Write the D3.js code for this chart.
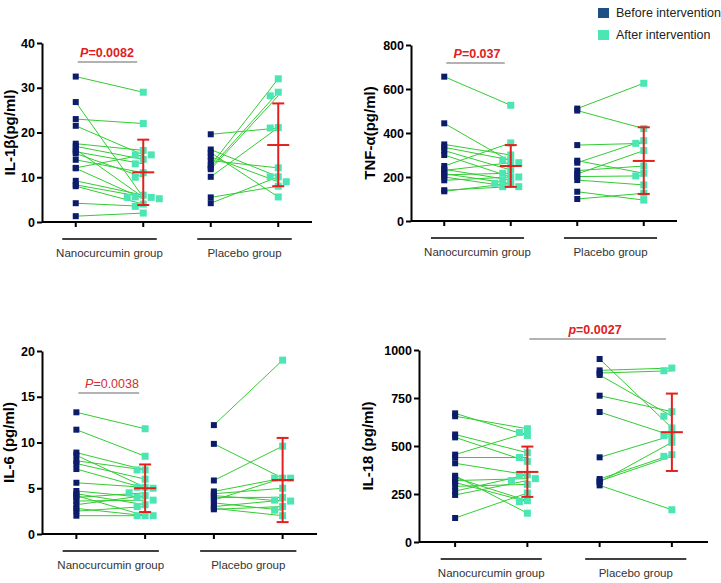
<!DOCTYPE html>
<html><head><meta charset="utf-8">
<script src="https://cdn.jsdelivr.net/npm/d3@7"></script>
<style>body{margin:0;background:#fff}svg{display:block;font-family:"Liberation Sans",Arial,sans-serif}</style>
</head><body><svg id="c" width="721" height="583"></svg>
<script>
// ---- data ----
const groups = ["Nanocurcumin group", "Placebo group"];
const positions = ["NB", "NA", "PB", "PA"];
const legendLabels = ["Before intervention", "After intervention"];

const il1NanoBefore = [32.5, 26.8, 23.0, 21.5, 17.5, 16.9, 16.2, 15.7, 15.3, 13.9, 12.1, 12.0, 9.2, 8.3, 8.0, 4.2, 1.3];
const il1NanoAfter  = [29.0, 5.5, 22.0, 15.0, 16.0, 14.0, 5.5, 13.0, 10.0, 11.0, 15.0, 5.2, 6.0, 5.6, 4.0, 3.5, 2.0];
const il1PlacBefore = [19.6, 16.2, 15.5, 14.6, 13.7, 12.7, 12.2, 11.8, 10.1, 5.5, 4.2];
const il1PlacAfter  = [21.0, 10.1, 5.6, 9.0, 12.1, 32.0, 29.0, 28.2, 21.1, 8.0, 10.1];
const il1Stats = [[11.1, 3.8, 18.4], [17.2, 8.0, 26.5]];
const il1Ticks = [0, 10, 20, 30, 40];

const tnfNanoBefore = [656, 444, 348, 335, 320, 300, 250, 235, 230, 215, 210, 200, 185, 140, 135];
const tnfNanoAfter  = [526, 270, 300, 277, 232, 200, 355, 186, 265, 170, 217, 156, 200, 156, 171];
const tnfPlacBefore = [511, 502, 345, 274, 265, 229, 214, 202, 186, 133, 100];
const tnfPlacAfter  = [626, 420, 353, 217, 365, 250, 320, 205, 164, 95, 126];
const tnfStats = [[250, 155, 345], [273, 123, 426]];
const tnfTicks = [0, 200, 400, 600, 800];

const il6NanoBefore = [13.3, 11.4, 8.9, 8.6, 8.0, 7.7, 7.1, 5.6, 4.7, 4.4, 4.2, 4.0, 3.6, 3.2, 2.8, 2.5, 2.0];
const il6NanoAfter  = [11.5, 8.5, 7.0, 5.1, 7.0, 6.0, 5.0, 5.1, 4.0, 3.2, 2.0, 4.5, 3.7, 4.2, 2.0, 3.0, 2.0];
const il6PlacBefore = [11.9, 9.85, 5.85, 4.65, 4.4, 4.2, 4.0, 3.7, 3.4, 3.0, 2.8, 2.7];
const il6PlacAfter  = [19.0, 6.1, 9.6, 6.1, 5.0, 3.6, 4.0, 6.1, 2.6, 3.7, 2.0, 3.0];
const il6Stats = [[5.0, 2.4, 7.6], [5.9, 1.3, 10.5]];
const il6Ticks = [0, 5, 10, 15, 20];

const il18NanoBefore = [670, 655, 560, 545, 455, 440, 410, 345, 335, 320, 310, 290, 265, 245, 125];
const il18NanoAfter  = [555, 590, 465, 420, 570, 440, 350, 150, 215, 330, 210, 300, 350, 320, 255];
const il18PlacBefore = [953, 894, 880, 870, 762, 677, 441, 328, 318, 312, 295];
const il18PlacAfter  = [594, 906, 892, 655, 679, 554, 554, 455, 446, 519, 168];
const il18Stats = [[365, 235, 497], [572, 370, 773]];
const il18Ticks = [0, 250, 500, 750, 1000];

const panels = [
  {title: "IL-1β(pg/ml)", nb: il1NanoBefore, na: il1NanoAfter, pb: il1PlacBefore, pa: il1PlacAfter, stats: il1Stats, ticks: il1Ticks,
   x0: 42, x1: 312, yTop: 43, yBot: 222, titleX: 10,
   p: {text: "0.0082", letter: "P", from: "NB", to: "NA", y: 62, bold: true, color: "#e02020", textCx: 107}},
  {title: "TNF-α(pg/ml)", nb: tnfNanoBefore, na: tnfNanoAfter, pb: tnfPlacBefore, pa: tnfPlacAfter, stats: tnfStats, ticks: tnfTicks,
   x0: 411, x1: 677, yTop: 45, yBot: 221, titleX: 370,
   p: {text: "0.037", letter: "P", from: "NB", to: "NA", y: 63, bold: true, color: "#e02020", textCx: 477}},
  {title: "IL-6 (pg/ml)", nb: il6NanoBefore, na: il6NanoAfter, pb: il6PlacBefore, pa: il6PlacAfter, stats: il6Stats, ticks: il6Ticks,
   x0: 42, x1: 317, yTop: 351, yBot: 534, titleX: 9,
   p: {text: "0.0038", letter: "P", from: "NB", to: "NA", y: 393, bold: false, color: "#d03030", textCx: 112}},
  {title: "IL-18 (pg/ml)", nb: il18NanoBefore, na: il18NanoAfter, pb: il18PlacBefore, pa: il18PlacAfter, stats: il18Stats, ticks: il18Ticks,
   x0: 419, x1: 708, yTop: 350, yBot: 542, titleX: 368,
   p: {text: "0.0027", letter: "p", from: "NA", to: "PA", y: 339, bold: true, color: "#e02020", textCx: 595}}
];

const BEFORE = "#0c1c6a", AFTER = "#4be6b4", LINE = "#33cc33", RED = "#e3201c", LEGBEFORE = "#1f4e85";
const svg = d3.select("#c");

function dodge(vals, y) {
  const order = vals.map((v, i) => i).sort((a, b) => vals[b] - vals[a]);
  const placed = [];
  const off = new Array(vals.length).fill(0);
  const seq = [0, -1, 1, -2, 2, -3, 3];
  order.forEach(i => {
    const py = y(vals[i]);
    for (const s of seq) {
      if (!placed.some(p => p.s === s && Math.abs(p.py - py) < 6.5)) {
        off[i] = s; placed.push({s, py}); break;
      }
    }
  });
  return off;
}

panels.forEach(P => {
  const g = svg.append("g");
  const y = d3.scaleLinear().domain([P.ticks[0], P.ticks[P.ticks.length - 1]]).range([P.yBot, P.yTop]);
  const x = d3.scalePoint().domain(positions).range([P.x0, P.x1]).padding(0.5);
  const step = x.step();

  g.append("line").attr("x1", P.x0).attr("x2", P.x1).attr("y1", P.yBot).attr("y2", P.yBot)
    .attr("stroke", "#000").attr("stroke-width", 2);
  positions.forEach(k => g.append("line").attr("x1", x(k)).attr("x2", x(k)).attr("y1", P.yBot).attr("y2", P.yBot + 5)
    .attr("stroke", "#000").attr("stroke-width", 2));

  const ax = g.append("g").attr("transform", `translate(${P.x0},0)`)
    .call(d3.axisLeft(y).tickValues(P.ticks).tickFormat(d3.format("d")).tickSize(5).tickSizeOuter(0).tickPadding(2));
  ax.select(".domain").attr("stroke-width", 2);
  ax.selectAll(".tick line").attr("stroke-width", 2);
  ax.selectAll(".tick text").attr("font-size", 12.5).attr("font-weight", "bold").attr("fill", "#000")
    .attr("font-family", "'Liberation Sans',Arial,sans-serif");

  const cy = (P.yTop + P.yBot) / 2;
  g.append("text").attr("transform", `translate(${P.titleX},${cy}) rotate(-90)`)
    .attr("text-anchor", "middle").attr("dy", "0.35em").attr("font-size", 15).attr("font-weight", "bold")
    .text(P.title);

  [["NB", "NA", 0], ["PB", "PA", 1]].forEach(([a, b, gi]) => {
    const mid = (x(a) + x(b)) / 2;
    g.append("line").attr("x1", mid - step * 0.7).attr("x2", mid + step * 0.7)
      .attr("y1", P.yBot + 17).attr("y2", P.yBot + 17).attr("stroke", "#000").attr("stroke-width", 1.6);
    g.append("text").attr("x", mid).attr("y", P.yBot + 35).attr("text-anchor", "middle")
      .attr("font-size", 11.5).attr("fill", "#333").text(groups[gi]);
  });

  const sets = [[P.nb, P.na, "NB", "NA"], [P.pb, P.pa, "PB", "PA"]];
  sets.forEach(([bef, aft, kb, ka], si) => {
    bef.forEach((v, i) => {
      g.append("line").attr("x1", x(kb)).attr("y1", y(v)).attr("x2", x(ka)).attr("y2", y(aft[i]))
        .attr("stroke", LINE).attr("stroke-width", 1);
    });
    const off = dodge(aft, y);
    aft.forEach((v, i) => {
      g.append("rect").attr("x", x(ka) + off[i] * 8 - 3.5).attr("y", y(v) - 3.5).attr("width", 7).attr("height", 7)
        .attr("fill", AFTER);
    });
    bef.forEach(v => {
      g.append("rect").attr("x", x(kb) - 3).attr("y", y(v) - 3).attr("width", 6).attr("height", 6)
        .attr("fill", BEFORE);
    });
    const [m, lo, hi] = P.stats[si];
    const cx = x(ka);
    g.append("line").attr("x1", cx).attr("x2", cx).attr("y1", y(lo)).attr("y2", y(hi)).attr("stroke", RED).attr("stroke-width", 2);
    [lo, hi].forEach(v => g.append("line").attr("x1", cx - 6).attr("x2", cx + 6).attr("y1", y(v)).attr("y2", y(v))
      .attr("stroke", RED).attr("stroke-width", 2));
    g.append("line").attr("x1", cx - 11).attr("x2", cx + 11).attr("y1", y(m)).attr("y2", y(m))
      .attr("stroke", RED).attr("stroke-width", 2);
  });

  const p = P.p;
  g.append("line").attr("x1", x(p.from) + 2).attr("x2", x(p.to) - 6).attr("y1", p.y).attr("y2", p.y)
    .attr("stroke", "#666").attr("stroke-width", 1.2);
  const t = g.append("text").attr("x", p.textCx).attr("y", p.y - 5).attr("text-anchor", "middle")
    .attr("font-size", 12.5).attr("font-weight", p.bold ? "bold" : "normal").attr("fill", p.color);
  t.append("tspan").attr("font-style", "italic").text(p.letter);
  t.append("tspan").text("=" + p.text);
});

const leg = svg.append("g");
[[LEGBEFORE, 13], [AFTER, 35]].forEach(([c, cy], i) => {
  leg.append("rect").attr("x", 598).attr("y", cy - 5).attr("width", 11).attr("height", 10).attr("fill", c);
  leg.append("text").attr("x", 616).attr("y", cy).attr("dy", "0.35em").attr("font-size", 12.5).attr("fill", "#222")
    .text(legendLabels[i]);
});
</script></body></html>
